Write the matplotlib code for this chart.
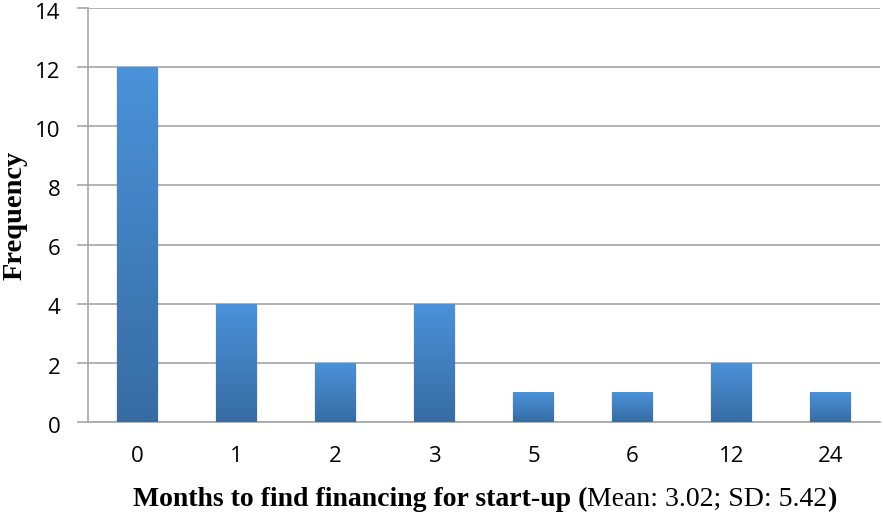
import numpy as np
import matplotlib
matplotlib.use("Agg")
import matplotlib.pyplot as plt
import matplotlib.transforms as mtransforms
from matplotlib.colors import LinearSegmentedColormap
from matplotlib.patches import Rectangle

categories = ["0", "1", "2", "3", "5", "6", "12", "24"]
frequency = [12, 4, 2, 4, 1, 1, 2, 1]
y_ticks = [0, 2, 4, 6, 8, 10, 12, 14]

W, H = 883, 514
fig = plt.figure(figsize=(W / 100, H / 100), dpi=100)
ax = fig.add_axes([88 / W, 92 / H, 792 / W, 414 / H])

x = np.arange(len(categories))
bar_w = 0.41
grad = LinearSegmentedColormap.from_list("barfill", ["#376ca3", "#4a92da"])
ramp = np.linspace(0, 1, 256).reshape(-1, 1)

for xi, v in zip(x, frequency):
    # soft drop shadow
    ax.add_patch(Rectangle((xi - bar_w / 2 - 0.01, 0), bar_w + 0.02, v - 0.03,
                           facecolor="#000000", alpha=0.07, lw=0, zorder=2))
    bar = ax.bar(xi, v, width=bar_w, color="none", zorder=3)[0]
    im = ax.imshow(ramp, cmap=grad, aspect="auto", origin="lower",
                   extent=(xi - bar_w / 2, xi + bar_w / 2, 0, v), zorder=3)
    im.set_clip_path(bar)

ax.set_xlim(-0.5, len(categories) - 0.5)
ax.set_ylim(0, 14)
ax.set_yticks(y_ticks)
ax.set_xticks(x)
ax.set_xticklabels(categories)
ax.yaxis.grid(True, color="#a6a6a6", lw=1.2)
ax.set_axisbelow(True)
for s in ["top", "right"]:
    ax.spines[s].set_visible(False)
for s in ["left", "bottom"]:
    ax.spines[s].set_color("#a6a6a6")
    ax.spines[s].set_linewidth(1.2)
ax.tick_params(axis="y", length=8, width=1.2, color="#a6a6a6", pad=12,
               labelsize=16, labelfontfamily="Open Sans")
ax.tick_params(axis="x", length=0, pad=17,
               labelsize=16, labelfontfamily="Open Sans")
shift = mtransforms.ScaledTranslation(0, -2 / 72, fig.dpi_scale_trans)
for lbl in ax.get_yticklabels():
    lbl.set_transform(lbl.get_transform() + shift)

fig.text(15 / W, (H - 215) / H, "Frequency", rotation=90, ha="center",
         va="center", fontsize=20.5, fontweight="bold",
         family="Liberation Serif")

# x-axis title with mixed weights
serif = "Liberation Serif"
fs = 20
parts = [("Months to find financing for start-up (", "bold"),
         ("Mean: 3.02; SD: 5.42", "normal"),
         (")", "bold")]
fig.canvas.draw()
renderer = fig.canvas.get_renderer()
texts = []
for s, wgt in parts:
    t = fig.text(0, 0, s, fontsize=fs, fontweight=wgt, family=serif,
                 ha="left", va="baseline")
    texts.append(t)
widths = [t.get_window_extent(renderer).width for t in texts]
total = sum(widths)
cx = 485
base = H - 506
pos = cx - total / 2
for t, w in zip(texts, widths):
    t.set_position((pos / W, base / H))
    pos += w

fig.savefig("out.png", dpi=100)
